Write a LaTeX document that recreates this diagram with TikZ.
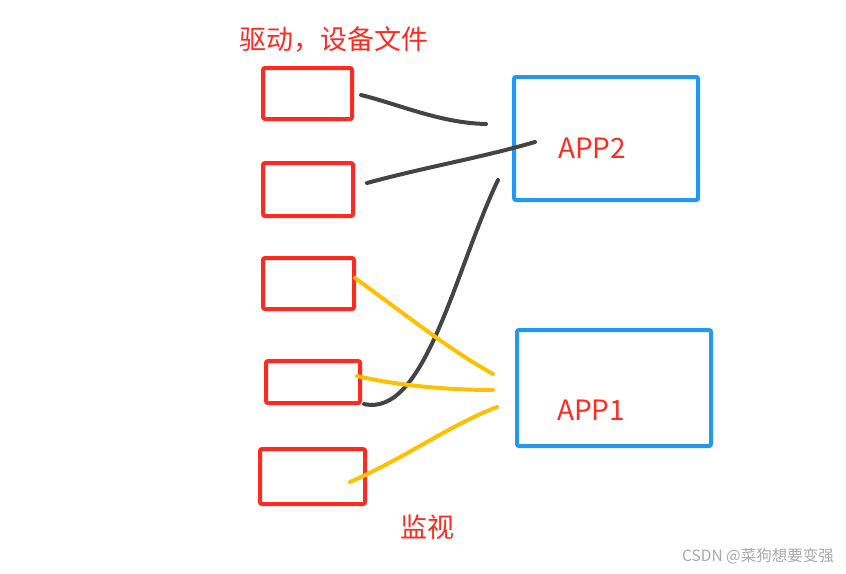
\documentclass[tikz,border=0pt]{standalone}
\usepackage{fontspec}
\setmainfont{Noto Sans CJK SC}
\usepackage{xcolor}
\usetikzlibrary{positioning}
\definecolor{penred}{HTML}{FF2A20}
\definecolor{penblue}{HTML}{2299F0}
\definecolor{pengray}{HTML}{444444}
\definecolor{penyellow}{HTML}{FFC000}
\definecolor{markgray}{HTML}{A8A8A8}

\begin{document}
\begin{tikzpicture}[x=1pt, y=-1pt,
  dev/.style={draw=penred, line width=4pt, rounded corners=2pt, inner sep=0pt},
  app/.style={draw=penblue, line width=4pt, rounded corners=2pt, inner sep=0pt},
  lbl/.style={text=penred, font=\fontsize{27}{30}\selectfont, inner sep=0pt},
  wire/.style={draw=pengray, line width=4pt, line cap=round},
  watch/.style={draw=penyellow, line width=4pt, line cap=round}
]
  \useasboundingbox (0,0) rectangle (846,573);

  % device files on the left
  \node[dev, minimum width=89pt, minimum height=51pt] (dev1) at (307.5,93.5) {};
  \node[dev, minimum width=90pt, minimum height=53pt] (dev2) at (308,189.5) {};
  \node[dev, minimum width=91pt, minimum height=51pt] (dev3) at (308.5,283.5) {};
  \node[dev, minimum width=94pt, minimum height=42pt] (dev4) at (313,382) {};
  \node[dev, minimum width=105pt, minimum height=55pt] (dev5) at (312.5,476.5) {};

  % applications on the right
  \node[app, minimum width=184pt, minimum height=123pt] (app2) at (606,138.5) {};
  \node[app, minimum width=194pt, minimum height=116pt] (app1) at (614,388) {};

  \node[lbl] (devlbl) at (334,40) {驱动，设备文件};
  \node[lbl, font=\fontsize{28}{30}\selectfont] (app2lbl) at (592,148) {APP2};
  \node[lbl, font=\fontsize{28}{30}\selectfont] (app1lbl) at (591,410) {APP1};
  \node[lbl] (watchlbl) at (427,527) {监视};
  \node[text=markgray, font=\fontsize{15.5}{17}\selectfont, inner sep=0pt] (mark) at (758,556) {CSDN @菜狗想要变强};

  % free ends of the strokes
  \coordinate (a1) at (361,95);   \coordinate (b1) at (486,124);
  \coordinate (a2) at (367,183);  \coordinate (b2) at (535,142);
  \coordinate (a3) at (364,404);  \coordinate (b3) at (498,180);
  \coordinate (c1) at (355,278);  \coordinate (d1) at (493,374);
  \coordinate (c2) at (357,376);  \coordinate (d2) at (493,390);
  \coordinate (c3) at (350,482);  \coordinate (d3) at (497,407);

  \draw[wire] (a1) .. controls (398,104) and (440,123) .. (b1);
  \draw[wire] (a2) .. controls (430,166) and (480,158) .. (b2);
  \draw[wire] (b3) .. controls (455,270) and (425,418) .. (a3);
  \draw[watch] (c1) .. controls (410,318) and (450,350) .. (d1);
  \draw[watch] (c2) .. controls (400,386) and (450,390) .. (d2);
  \draw[watch] (c3) .. controls (405,458) and (450,425) .. (d3);
\end{tikzpicture}
\end{document}
